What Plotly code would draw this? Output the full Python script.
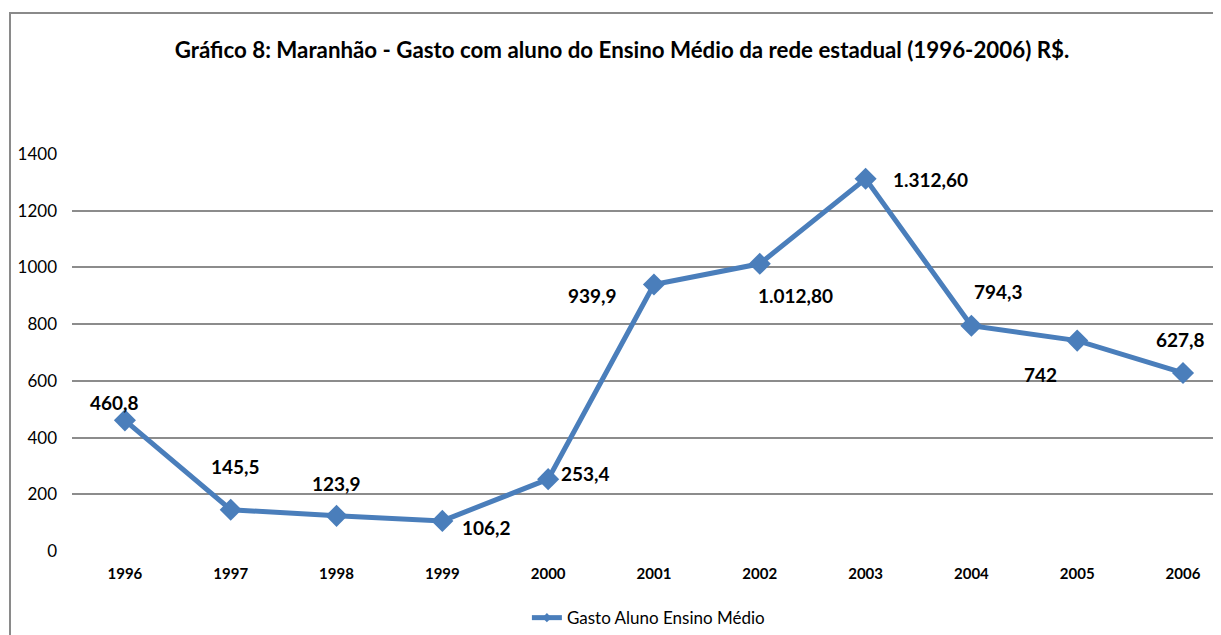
import plotly.graph_objects as go

years = ["1996", "1997", "1998", "1999", "2000", "2001", "2002", "2003", "2004", "2005", "2006"]
values = [460.8, 145.5, 123.9, 106.2, 253.4, 939.9, 1012.8, 1312.6, 794.3, 742, 627.8]
labels = ["460,8", "145,5", "123,9", "106,2", "253,4", "939,9", "1.012,80", "1.312,60", "794,3", "742", "627,8"]
label_dx = [-10, 5, 0, 44, 37, -61, 36, 65, 27, -37, -3]
label_dy = [18, 43, 32, -7, 6, -11, -32, -1, 34, -34, 33]

title_text = "Gráfico 8: Maranhão - Gasto com aluno do Ensino Médio da rede estadual (1996-2006) R$."
series_name = "Gasto Aluno Ensino Médio"

blue = "#4A7EBB"
grid = "#8C8C8C"
font = "Lato"

W, H = 1213, 627
L, T, R, B = 64, 146, 2, 84
plot_h = H - T - B

fig = go.Figure()
fig.add_trace(go.Scatter(
    x=list(range(len(years))), y=values, mode="lines+markers", name=series_name,
    line=dict(color=blue, width=5), showlegend=False,
    marker=dict(symbol="diamond", size=17, color=blue),
))
# legend-only entry with a small marker, as in the reference legend
fig.add_trace(go.Scatter(
    x=[None], y=[None], mode="lines+markers", name=series_name,
    line=dict(color=blue, width=5), showlegend=True,
    marker=dict(symbol="diamond", size=7, color=blue),
))

for i, (v, t) in enumerate(zip(values, labels)):
    fig.add_annotation(x=i, y=v, text=t, showarrow=False,
                       xshift=label_dx[i], yshift=label_dy[i],
                       font=dict(family=font, size=19, color="black", weight="bold"))

fig.update_layout(
    width=W, height=H,
    paper_bgcolor="white", plot_bgcolor="white",
    margin=dict(l=L, r=R, t=T, b=B, autoexpand=False),
    title=dict(text=title_text, x=614 / W, xref="container", xanchor="center",
               y=1 - 42 / H, yref="container", yanchor="middle",
               font=dict(family=font, size=22.3, color="black", weight="bold")),
    showlegend=True,
    legend=dict(orientation="h", x=0.3966, xanchor="left", y=-0.169, yanchor="middle",
                font=dict(family=font, size=17, color="black")),
    shapes=[dict(type="rect", xref="paper", yref="paper",
                 x0=(2 - L) / (W - L - R), x1=1.2, y0=-0.5, y1=(H - B - 5) / plot_h,
                 line=dict(color="#8A8A8A", width=2), layer="below")],
)

fig.update_xaxes(
    tickmode="array", tickvals=list(range(len(years))), ticktext=years,
    range=[-0.5, 10.34], showgrid=False, zeroline=False, showline=False,
    tickfont=dict(family=font, size=15, color="black", weight="bold"),
    ticklabelstandoff=12,
)
fig.update_yaxes(
    range=[0, 1400], tickvals=[0, 200, 400, 600, 800, 1000, 1200, 1400],
    showgrid=True, gridcolor=grid, gridwidth=1.5, zeroline=False, showline=False,
    tickfont=dict(family=font, size=17, color="black"),
    ticklabelstandoff=14,
)

fig.write_html("out.html")
